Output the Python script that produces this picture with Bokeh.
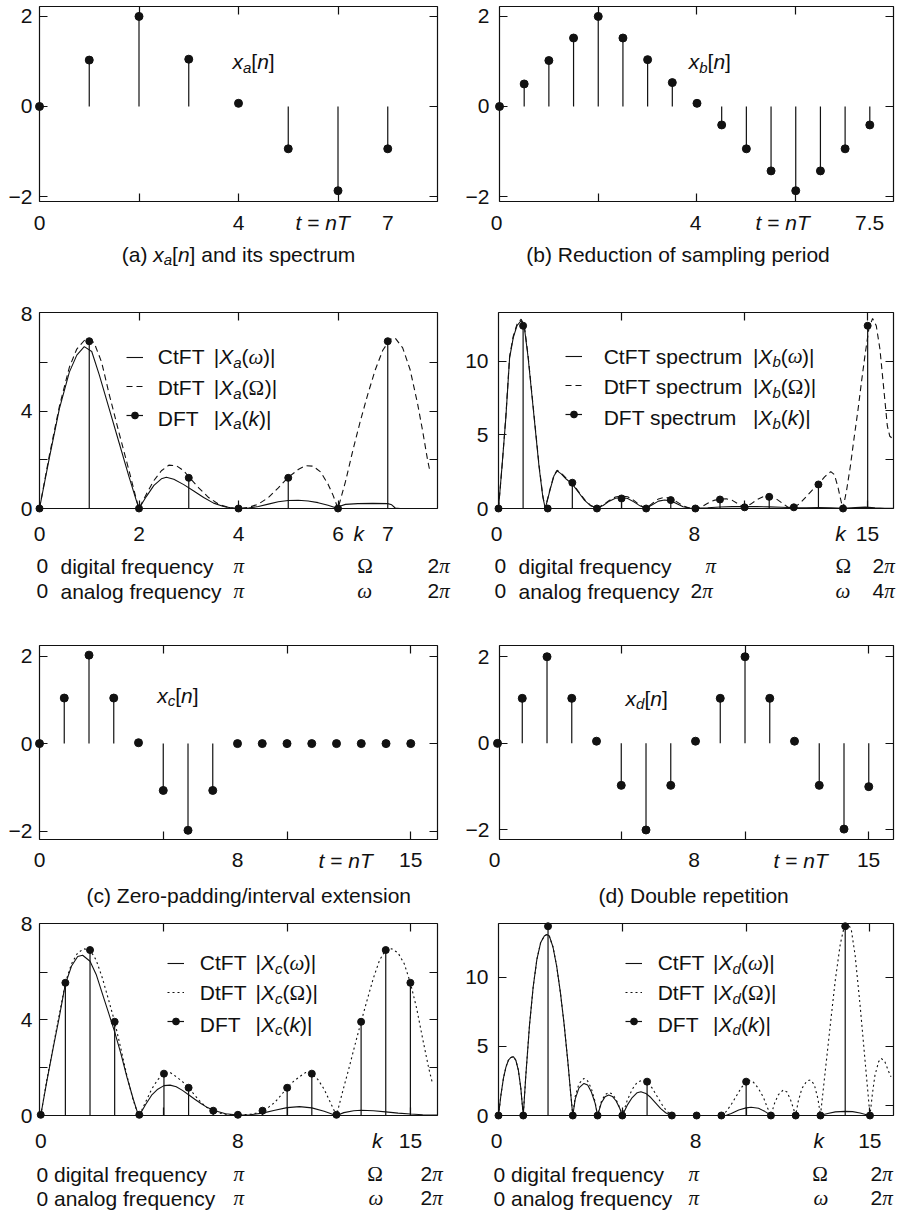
from bokeh.plotting import figure
from bokeh.models import (Range1d, FixedTicker, LinearAxis, Label, Legend,
                          LegendItem, ColumnDataSource)
from bokeh.layouts import column, row
from bokeh.embed import file_html
from bokeh.resources import INLINE

FONT = "Liberation Sans"
SERIF = "Liberation Serif"
FS = 21
INK = "#111111"
YFIX = 7.5   # empirical baseline correction for Label text

# ---------------------------------------------------------------- data
n_a = [0, 1, 2, 3, 4, 5, 6, 7]
x_a = [0, 1.03, 2.0, 1.05, 0.07, -0.94, -1.87, -0.94]

t_b = [0, 0.5, 1.0, 1.5, 2.0, 2.5, 3.0, 3.5, 4.0, 4.5, 5.0, 5.5, 6.0, 6.5, 7.0, 7.5]
x_b = [0, 0.5, 1.02, 1.52, 2.0, 1.52, 1.04, 0.53, 0.07, -0.41, -0.94, -1.43,
       -1.87, -1.43, -0.94, -0.41]

n16 = list(range(16))
x_c = [0, 1.04, 2.02, 1.04, 0.02, -1.07, -1.98, -1.07, 0, 0, 0, 0, 0, 0, 0, 0]
x_d = [0, 1.04, 2.0, 1.04, 0.05, -0.97, -2.0, -0.97, 0.05, 1.04, 2.0, 1.04,
       0.05, -0.97, -1.98, -1.0]

k8 = list(range(8))
dft_a = [0, 6.87, 0, 1.26, 0, 1.26, 0, 6.87]
dft_b = [0, 12.4, 0, 1.75, 0, 0.68, 0, 0.57, 0, 0.61, 0.08, 0.79, 0.08, 1.63, 0, 12.4]
dft_c = [0.03, 5.55, 6.92, 3.92, 0.03, 1.75, 1.16, 0.2, 0.03, 0.2, 1.16, 1.75,
         0.03, 3.92, 6.92, 5.55]
dft_d = [0, 0, 13.7, 0, 0, 0, 2.45, 0, 0, 0, 2.45, 0, 0, 0, 13.7, 0]

# (k, magnitude)
ctft_a = [(0, 0), (0.2, 2.1), (0.4, 4.1), (0.6, 5.6), (0.75, 6.3), (0.9, 6.65),
          (1.05, 6.45), (1.2, 5.5), (1.4, 4.1), (1.6, 2.7), (1.8, 1.3), (1.95, 0.3),
          (2.0, 0), (2.15, 0.5), (2.3, 0.95), (2.45, 1.22), (2.55, 1.28), (2.7, 1.2),
          (2.9, 0.98), (3.1, 0.72), (3.3, 0.45), (3.5, 0.22), (3.7, 0.08), (3.9, 0.01),
          (4.0, 0), (4.2, 0.02), (4.4, 0.08), (4.6, 0.18), (4.8, 0.28), (5.0, 0.33),
          (5.2, 0.34), (5.4, 0.31), (5.6, 0.24), (5.8, 0.13), (6.0, 0), (6.05, 0.1),
          (6.15, 0.17), (6.4, 0.2), (6.7, 0.21), (7.0, 0.2), (7.08, 0.15),
          (7.15, 0.02), (7.25, 0), (7.42, 0)]
dtft_a = [(0, 0), (0.2, 2.2), (0.4, 4.2), (0.6, 5.8), (0.75, 6.55), (0.9, 6.9),
          (1.0, 6.95), (1.1, 6.8), (1.25, 6.0), (1.4, 4.7), (1.6, 3.1), (1.8, 1.55),
          (1.95, 0.35), (2.0, 0), (2.15, 0.6), (2.3, 1.15), (2.45, 1.55), (2.6, 1.78),
          (2.75, 1.76), (2.9, 1.55), (3.0, 1.3), (3.2, 0.85), (3.4, 0.45), (3.6, 0.18),
          (3.8, 0.04), (4.0, 0), (4.2, 0.04), (4.4, 0.18), (4.6, 0.45), (4.8, 0.85),
          (5.0, 1.28), (5.2, 1.6), (5.35, 1.76), (5.5, 1.74), (5.65, 1.5), (5.8, 1.0),
          (5.9, 0.55), (6.0, 0), (6.15, 1.1), (6.3, 2.4), (6.45, 3.6), (6.6, 4.7),
          (6.75, 5.7), (6.9, 6.5), (7.05, 6.95), (7.15, 7.0), (7.3, 6.6), (7.45, 5.7),
          (7.6, 4.3), (7.7, 3.2), (7.8, 2.0), (7.85, 1.5)]

ctft_b = [(0, 0), (0.15, 3.0), (0.3, 6.2), (0.45, 10.2), (0.6, 11.6), (0.75, 12.4),
          (0.92, 12.75), (1.05, 12.3), (1.2, 10.3), (1.35, 7.8), (1.5, 5.3),
          (1.65, 2.8), (1.8, 0.8), (1.9, 0), (2.1, 1.3), (2.25, 2.2), (2.38, 2.55),
          (2.55, 2.35), (2.75, 2.0), (3.0, 1.65), (3.25, 1.1), (3.5, 0.55),
          (3.75, 0.18), (4.0, 0.03), (4.25, 0.2), (4.5, 0.5), (4.75, 0.7), (5.0, 0.75),
          (5.25, 0.68), (5.5, 0.45), (5.75, 0.18), (6.0, 0.02), (6.25, 0.25),
          (6.5, 0.5), (6.75, 0.58), (7.0, 0.52), (7.25, 0.32), (7.5, 0.12),
          (7.75, 0.03), (8.0, 0.02), (8.5, 0.05), (9.0, 0.1), (9.5, 0.13), (10.0, 0.14),
          (10.5, 0.13), (11.0, 0.11), (11.5, 0.08), (12.0, 0.05), (12.5, 0.05),
          (13.0, 0.06), (13.5, 0.05), (14.0, 0.02), (14.5, 0.07), (14.9, 0.09),
          (15.3, 0.05), (15.7, 0.02), (16.05, 0.01)]
dtft_b = [(0, 0), (0.15, 3.0), (0.3, 6.3), (0.45, 10.3), (0.6, 11.7), (0.75, 12.5),
          (0.92, 12.85), (1.05, 12.4), (1.2, 10.4), (1.35, 7.9), (1.5, 5.4),
          (1.65, 2.9), (1.8, 0.85), (1.9, 0), (2.1, 1.35), (2.25, 2.25), (2.38, 2.6),
          (2.55, 2.4), (2.75, 2.05), (3.0, 1.72), (3.25, 1.15), (3.5, 0.6), (3.75, 0.2),
          (4.0, 0), (4.25, 0.25), (4.5, 0.55), (4.75, 0.78), (5.0, 0.85), (5.25, 0.8),
          (5.5, 0.55), (5.75, 0.22), (6.0, 0), (6.25, 0.35), (6.5, 0.65), (6.75, 0.76),
          (7.0, 0.7), (7.25, 0.45), (7.5, 0.18), (7.75, 0.04), (8.0, 0), (8.25, 0.12),
          (8.5, 0.35), (8.75, 0.55), (9.0, 0.63), (9.25, 0.66), (9.5, 0.55),
          (9.75, 0.3), (10.0, 0.08), (10.25, 0.3), (10.5, 0.6), (10.75, 0.8),
          (11.0, 0.82), (11.25, 0.7), (11.5, 0.4), (11.75, 0.1), (12.0, 0.05),
          (12.25, 0.35), (12.5, 0.8), (12.75, 1.25), (13.0, 1.65), (13.25, 2.15),
          (13.5, 2.5), (13.65, 2.3), (13.8, 1.4), (13.92, 0.5), (14.0, 0),
          (14.15, 1.3), (14.3, 2.9), (14.45, 4.8), (14.6, 6.6), (14.75, 8.6),
          (14.9, 10.5), (15.05, 12.2), (15.2, 12.9), (15.35, 12.4), (15.5, 10.8),
          (15.65, 8.2), (15.8, 5.6), (15.9, 4.9), (16.05, 4.7)]

ctft_c = [(0, 0), (0.25, 1.45), (0.5, 2.8), (0.75, 4.1), (1.0, 5.5), (1.25, 6.25),
          (1.5, 6.65), (1.7, 6.7), (2.0, 6.45), (2.25, 5.9), (2.5, 5.1), (2.75, 4.3),
          (3.0, 3.5), (3.25, 2.6), (3.5, 1.6), (3.75, 0.7), (3.95, 0.05), (4.0, 0),
          (4.25, 0.45), (4.5, 0.85), (4.75, 1.1), (5.0, 1.25), (5.25, 1.27), (5.5, 1.2),
          (5.75, 1.05), (6.0, 0.87), (6.25, 0.68), (6.5, 0.5), (6.75, 0.34),
          (7.0, 0.22), (7.5, 0.07), (8.0, 0.02), (8.5, 0.03), (9.0, 0.1), (9.5, 0.22),
          (10.0, 0.33), (10.5, 0.37), (11.0, 0.32), (11.5, 0.18), (11.9, 0.03),
          (12.0, 0), (12.3, 0.12), (12.7, 0.2), (13.0, 0.22), (13.5, 0.2), (14.0, 0.15),
          (14.5, 0.1), (15.0, 0.06), (15.5, 0.03), (16.1, 0.02)]
dtft_c = [(0, 0), (0.25, 1.5), (0.5, 2.85), (0.75, 4.2), (1.0, 5.55), (1.25, 6.35),
          (1.5, 6.8), (1.75, 6.97), (2.0, 6.92), (2.25, 6.5), (2.5, 5.75), (2.75, 4.85),
          (3.0, 3.92), (3.25, 2.8), (3.5, 1.65), (3.75, 0.65), (3.95, 0.05), (4.0, 0),
          (4.25, 0.55), (4.5, 1.1), (4.75, 1.5), (5.0, 1.75), (5.25, 1.8), (5.5, 1.62),
          (5.75, 1.42), (6.0, 1.16), (6.25, 0.85), (6.5, 0.55), (6.75, 0.33),
          (7.0, 0.2), (7.25, 0.1), (7.5, 0.05), (8.0, 0.02), (8.5, 0.05), (8.75, 0.1),
          (9.0, 0.2), (9.25, 0.35), (9.5, 0.55), (9.75, 0.85), (10.0, 1.16),
          (10.25, 1.42), (10.5, 1.62), (10.75, 1.8), (11.0, 1.75), (11.25, 1.5),
          (11.5, 1.1), (11.75, 0.55), (12.0, 0), (12.25, 1.0), (12.5, 1.95),
          (12.75, 2.95), (13.0, 3.92), (13.25, 4.85), (13.5, 5.75), (13.75, 6.5),
          (14.0, 6.92), (14.25, 6.97), (14.5, 6.8), (14.75, 6.35), (15.0, 5.55),
          (15.25, 4.5), (15.5, 3.2), (15.75, 1.95), (15.9, 1.33)]

ctft_d = [(0, 0), (0.1, 1.5), (0.2, 2.7), (0.3, 3.5), (0.4, 4.0), (0.5, 4.2),
          (0.6, 4.26), (0.7, 4.0), (0.8, 3.3), (0.9, 2.0), (1.0, 0), (1.1, 2.8),
          (1.25, 6.5), (1.4, 9.3), (1.55, 11.3), (1.7, 12.5), (1.85, 13.0),
          (1.95, 13.1), (2.05, 13.0), (2.2, 12.2), (2.35, 10.8), (2.5, 8.9),
          (2.65, 6.6), (2.8, 3.9), (2.92, 1.5), (3.0, 0), (3.1, 1.2), (3.25, 2.0),
          (3.45, 2.32), (3.6, 2.2), (3.75, 1.7), (3.9, 0.9), (4.0, 0), (4.15, 0.9),
          (4.3, 1.35), (4.45, 1.48), (4.6, 1.38), (4.75, 1.05), (4.9, 0.5), (5.0, 0),
          (5.2, 0.75), (5.4, 1.3), (5.6, 1.65), (5.75, 1.72), (5.95, 1.6), (6.15, 1.3),
          (6.35, 0.9), (6.55, 0.5), (6.75, 0.2), (6.9, 0.05), (7.0, 0), (8.0, 0),
          (9.0, 0), (9.2, 0.02), (9.4, 0.15), (9.7, 0.4), (10.0, 0.55), (10.2, 0.6),
          (10.5, 0.52), (10.75, 0.3), (11.0, 0.02), (12.0, 0), (13.0, 0.02),
          (13.3, 0.15), (13.6, 0.26), (14.0, 0.3), (14.3, 0.28), (14.6, 0.18),
          (14.9, 0.04), (15.0, 0), (15.95, 0)]
dtft_d = [(0, 0), (0.1, 1.5), (0.2, 2.7), (0.3, 3.5), (0.4, 4.0), (0.5, 4.2),
          (0.6, 4.26), (0.7, 4.0), (0.8, 3.3), (0.9, 2.0), (1.0, 0), (1.1, 2.8),
          (1.25, 6.5), (1.4, 9.3), (1.55, 11.3), (1.7, 12.5), (1.85, 13.0),
          (1.95, 13.1), (2.05, 13.0), (2.2, 12.2), (2.35, 10.8), (2.5, 8.9),
          (2.65, 6.6), (2.8, 3.9), (2.92, 1.5), (3.0, 0), (3.1, 1.4), (3.25, 2.3),
          (3.45, 2.69), (3.6, 2.5), (3.75, 1.95), (3.9, 1.0), (4.0, 0), (4.15, 1.0),
          (4.3, 1.5), (4.45, 1.67), (4.6, 1.55), (4.75, 1.15), (4.9, 0.55), (5.0, 0),
          (5.2, 1.1), (5.4, 1.9), (5.6, 2.4), (5.8, 2.55), (6.0, 2.45), (6.2, 2.0),
          (6.4, 1.4), (6.6, 0.8), (6.8, 0.3), (7.0, 0), (8.0, 0), (9.0, 0), (9.2, 0.3),
          (9.4, 0.8), (9.6, 1.4), (9.8, 2.0), (10.0, 2.45), (10.1, 2.57), (10.3, 2.4),
          (10.5, 1.95), (10.7, 1.3), (10.85, 0.6), (11.0, 0), (11.15, 0.9), (11.3, 1.5),
          (11.5, 1.85), (11.65, 1.7), (11.8, 1.1), (11.92, 0.45), (12.0, 0),
          (12.1, 1.0), (12.25, 1.95), (12.45, 2.5), (12.6, 2.57), (12.75, 2.25),
          (12.9, 1.2), (13.0, 0), (13.2, 3.3), (13.4, 6.6), (13.6, 9.8), (13.8, 12.4),
          (13.95, 13.6), (14.1, 14.0), (14.25, 13.4), (14.4, 11.6), (14.6, 8.0),
          (14.8, 4.0), (14.95, 1.0), (15.0, 0), (15.1, 1.6), (15.2, 2.9), (15.35, 3.9),
          (15.45, 4.14), (15.6, 3.9), (15.75, 3.2), (15.85, 2.8)]

# tick labels
TL_time_y = {-2: "\u22122", 0: "0", 2: "2"}
TL_a_x = {0: "0", 4: "4", 7: "7"}
TL_b_x = {0: "0", 4: "4", 7.5: "7.5"}
TL_16_x = {0: "0", 8: "8", 15: "15"}
TL_a_spec_x = {0: "0", 2: "2", 4: "4", 6: "6", 7: "7"}
TL_spec8_y = {0: "0", 4: "4", 8: "8"}
TL_spec13_y = {0: "0", 5: "5", 10: "10"}

# ---------------------------------------------------------------- helpers
AW = {' ': 278, '(': 333, ')': 333, '[': 278, ']': 278, '|': 260, '/': 278, '-': 333,
      '=': 584, '.': 278, 'C': 722, 'D': 722, 'F': 611, 'T': 611, 'X': 667, 'Z': 611,
      'R': 722, 'a': 556, 'b': 556, 'c': 500, 'd': 556, 'e': 556, 'f': 278, 'g': 556,
      'h': 556, 'i': 222, 'k': 500, 'l': 222, 'm': 833, 'n': 556, 'o': 556, 'p': 556,
      'q': 556, 'r': 333, 's': 500, 't': 278, 'u': 556, 'v': 500, 'x': 500, 'y': 500}
for _c in "0123456789":
    AW[_c] = 556
GW = {'\u03c0': 549, '\u03a9': 768, '\u03c9': 686}


class Geo:
    def __init__(self, fx, fw, fb, fh, xr, yr):
        self.fx, self.fw, self.fb, self.fh, self.xr, self.yr = fx, fw, fb, fh, xr, yr

    def dx(self, X):
        return self.xr[0] + (X - self.fx) / self.fw * (self.xr[1] - self.xr[0])

    def dy(self, Y):
        return self.yr[0] + (self.fb - Y) / self.fh * (self.yr[1] - self.yr[0])


def seg_w(t, kind, size):
    tbl = GW if kind in ("g", "gi") else AW
    return sum(tbl.get(ch, 556) for ch in t) / 1000.0 * size


def rich(p, g, X, Y, segs, size=FS, align="left"):
    sub = round(size * 0.72)
    ws = [seg_w(t, k, sub if k == "s" else size) for t, k in segs]
    off = 0 if align == "left" else -sum(ws) / 2.0
    x, y = g.dx(X), g.dy(Y - YFIX)
    for (t, k), w in zip(segs, ws):
        if k != "sp":
            p.add_layout(Label(
                x=x, y=y, x_offset=off, y_offset=(-0.27 * size if k == "s" else 0),
                text=t, text_font=(SERIF if k in ("g", "gi") else FONT),
                text_font_style=("italic" if k in ("i", "s", "gi") else "normal"),
                text_font_size=f"{sub if k == 's' else size}px",
                text_baseline="alphabetic", text_align="left", text_color=INK))
        off += w


def ticklabels(p, g, labels, Y):
    for k, t in labels.items():
        p.add_layout(Label(x=k, y=g.dy(Y - YFIX), text=t, text_align="center",
                           text_baseline="alphabetic", text_font=FONT,
                           text_font_size=f"{FS}px", text_color=INK))


def XN(s):
    return [("x", "i"), (s, "s"), ("[", "n"), ("n", "i"), ("]", "n")]


def XF(s, arg):
    return [("|", "n"), ("X", "i"), (s, "s"), ("(", "n")] + arg + [(")", "n"), ("|", "n")]


TNT = [("t", "i"), (" ", "sp"), ("=", "n"), (" ", "sp"), ("nT", "i")]
PI = ("\u03c0", "gi")


def base_fig(w, h, bl, br, bt, bb, xr, yr):
    p = figure(width=w, height=h, x_range=Range1d(*xr), y_range=Range1d(*yr),
               x_axis_type=None, y_axis_type=None, output_backend="svg",
               toolbar_location=None, min_border_left=bl, min_border_right=br,
               min_border_top=bt, min_border_bottom=bb)
    p.background_fill_color = "white"
    p.border_fill_color = "white"
    return p


def axis(p, side, labels=None, marks=(), standoff=0):
    labels = labels or {}
    ax = LinearAxis(ticker=FixedTicker(ticks=list(labels.keys()), minor_ticks=list(marks)))
    ax.major_label_overrides = dict(labels)
    ax.axis_line_color = None
    ax.major_tick_in = 0
    ax.major_tick_out = 0
    ax.minor_tick_in = 8
    ax.minor_tick_out = 0
    ax.minor_tick_line_color = INK
    ax.minor_tick_line_width = 1.2
    ax.major_label_text_font = FONT
    ax.major_label_text_font_size = f"{FS}px"
    ax.major_label_text_color = INK
    ax.major_label_standoff = standoff
    p.add_layout(ax, side)


def stems(p, xs, ys, size):
    src = ColumnDataSource(dict(x=list(xs), y=list(ys), z=[0] * len(xs)))
    r1 = p.segment(x0="x", y0="z", x1="x", y1="y", source=src, line_color=INK,
                   line_width=1.2)
    r2 = p.scatter("x", "y", source=src, size=size, color=INK, level="overlay")
    return r1, r2


def curve(p, pairs, dash):
    k = [a for a, b in pairs]
    m = [b for a, b in pairs]
    return p.line(k, m, line_color=INK, line_width=1.1, line_dash=dash)


def legend(p, rs, vx, vy):
    items = [LegendItem(label=" ", renderers=[rs[0]]),
             LegendItem(label=" ", renderers=[rs[1]]),
             LegendItem(label=" ", renderers=list(rs[2]))]
    lg = Legend(items=items, location=(vx, vy), padding=0, margin=0, spacing=3,
                glyph_height=26, glyph_width=17, label_height=26, label_width=1,
                label_standoff=0, border_line_color=None, background_fill_alpha=0,
                label_text_font_size="1px")
    p.add_layout(lg)


# ---------------------------------------------------------------- geometry
LW, RW = 462, 437
LBL, LBR, RBL, RBR = 39, 25, 34, 6
PANELS = [(209, 6, 8), (236, 27, 13), (225, 23, 8), (217, 12, 13)]
STRIPS = [76, 101, 64, 83]
TOPS = []
_y = 0
for (ph, _, _), sh in zip(PANELS, STRIPS):
    TOPS.append((_y, _y + ph))
    _y += ph + sh


def mk(col, r, xr, yr):
    h, bt, bb = PANELS[r]
    if col == 0:
        p = base_fig(LW, h, LBL, LBR, bt, bb, xr, yr)
        fx, fw = LBL, LW - LBL - LBR
    else:
        p = base_fig(RW, h, RBL, RBR, bt, bb, xr, yr)
        fx, fw = LW + RBL, RW - RBL - RBR
    p.outline_line_color = INK
    p.outline_line_width = 1.2
    top = TOPS[r][0] + bt
    fh = h - bt - bb
    return p, Geo(fx, fw, top + fh, fh, xr, yr)


def strip(col, r, xr):
    H = STRIPS[r]
    top = TOPS[r][1]
    if col == 0:
        W, bl, br, x0 = LW, LBL, LBR, 0
    else:
        W, bl, br, x0 = RW, RBL, RBR, LW
    upp = (xr[1] - xr[0]) / (W - bl - br)
    sxr = (xr[0] - bl * upp, xr[1] + br * upp)
    p = figure(width=W, height=H, x_range=Range1d(*sxr), y_range=Range1d(H, 0),
               x_axis_type=None, y_axis_type=None, output_backend="svg",
               toolbar_location=None, min_border=0, min_border_left=0,
               min_border_right=0, min_border_top=0, min_border_bottom=0)
    p.outline_line_color = None
    p.background_fill_color = "white"
    p.border_fill_color = "white"
    return p, Geo(x0, W, top + H, H, sxr, (H, 0))


LSO, RSO = 7, 10

# ---- (a) time
XR = (0, 8)
pA1, gA1 = mk(0, 0, XR, (-2.11, 2.22))
axis(pA1, "left", TL_time_y, [-2, 0, 2], LSO)
axis(pA1, "right", None, [-2, 0, 2])
axis(pA1, "below", None, [2, 4, 6])
axis(pA1, "above", None, [2, 4, 6])
stems(pA1, n_a, x_a, 8)
rich(pA1, gA1, 232, 68.5, XN("a"))
sA1, hA1 = strip(0, 0, XR)
ticklabels(sA1, hA1, TL_a_x, 229.5)
rich(sA1, hA1, 295, 229.5, TNT)
rich(sA1, hA1, 238, 261, [("(a)", "n"), (" ", "sp")] + XN("a") +
     [(" ", "sp"), ("and its spectrum", "n")], align="center")

# ---- (b) time
XR = (0, 7.98)
pB1, gB1 = mk(1, 0, XR, (-2.11, 2.22))
axis(pB1, "left", TL_time_y, [-2, 0, 2], RSO)
axis(pB1, "right", None, [-2, 0, 2])
axis(pB1, "below", None, [2, 4, 6])
axis(pB1, "above", None, [2, 4, 6])
stems(pB1, t_b, x_b, 8)
rich(pB1, gB1, 686.7, 68.5, XN("b"))
sB1, hB1 = strip(1, 0, XR)
ticklabels(sB1, hB1, TL_b_x, 229.5)
rich(sB1, hB1, 755, 229.5, TNT)
rich(sB1, hB1, 677.5, 261, [("(b) Reduction of sampling period", "n")], align="center")

# ---- (a) spectrum
XR = (0, 8)
pA2, gA2 = mk(0, 1, XR, (0, 8.05))
axis(pA2, "left", TL_spec8_y, [2, 4, 6], LSO)
axis(pA2, "right", None, [2, 4, 6])
axis(pA2, "below", None, [2, 4, 6])
axis(pA2, "above", None, [2, 4, 6])
c1 = curve(pA2, ctft_a, "solid")
c2 = curve(pA2, dtft_a, "6 4")
s = stems(pA2, k8, dft_a, 7)
legend(pA2, [c1, c2, s], 87, 80.4)
for name, arg, by in [("CtFT", [("\u03c9", "gi")], 363.5),
                      ("DtFT", [("\u03a9", "g")], 394.5),
                      ("DFT", [("k", "i")], 425.3)]:
    rich(pA2, gA2, 157.3, by, [(name, "n")])
    rich(pA2, gA2, 213.3, by, XF("a", arg))
sA2, hA2 = strip(0, 1, XR)
ticklabels(sA2, hA2, TL_a_spec_x, 540.5)
rich(sA2, hA2, 358.3, 540.5, [("k", "i")], align="center")
for X, segs in [(36, [("0", "n")]), (60, [("digital frequency", "n")]), (233, [PI]),
                (356.7, [("\u03a9", "g")]), (427, [("2", "n"), PI])]:
    rich(sA2, hA2, X, 573.3, segs)
for X, segs in [(36, [("0", "n")]), (60, [("analog frequency", "n")]), (233, [PI]),
                (356.7, [("\u03c9", "gi")]), (427, [("2", "n"), PI])]:
    rich(sA2, hA2, X, 598.3, segs)

# ---- (b) spectrum
XR = (0, 16.05)
pB2, gB2 = mk(1, 1, XR, (0, 13.3))
axis(pB2, "left", TL_spec13_y, [5, 10], RSO)
axis(pB2, "right", None, [3.32, 6.64, 9.96])
axis(pB2, "below", None, [5, 10, 15])
axis(pB2, "above", None, [5, 10, 15])
c1 = curve(pB2, ctft_b, "solid")
c2 = curve(pB2, dtft_b, "6 4")
s = stems(pB2, n16, dft_b, 7)
legend(pB2, [c1, c2, s], 67.3, 81.0)
for name, arg, by in [("CtFT spectrum", [("\u03c9", "gi")], 363),
                      ("DtFT spectrum", [("\u03a9", "g")], 393.5),
                      ("DFT spectrum", [("k", "i")], 424.5)]:
    rich(pB2, gB2, 601.7, by, [(name, "n")])
    rich(pB2, gB2, 751.7, by, XF("b", arg))
sB2, hB2 = strip(1, 1, XR)
ticklabels(sB2, hB2, TL_16_x, 540.5)
rich(sB2, hB2, 840, 540.5, [("k", "i")], align="center")
for X, segs in [(494, [("0", "n")]), (518, [("digital frequency", "n")]), (705, [PI]),
                (835, [("\u03a9", "g")]), (872, [("2", "n"), PI])]:
    rich(sB2, hB2, X, 573.3, segs)
for X, segs in [(494, [("0", "n")]), (518, [("analog frequency", "n")]),
                (690, [("2", "n"), PI]), (835, [("\u03c9", "gi")]), (872, [("4", "n"), PI])]:
    rich(sB2, hB2, X, 598.3, segs)

# ---- (c) time
XR = (0, 16.08)
pA3, gA3 = mk(0, 2, XR, (-2.19, 2.24))
axis(pA3, "left", TL_time_y, [-2, 0, 2], LSO)
axis(pA3, "right", None, [-2, 0, 2])
axis(pA3, "below", None, [5, 10, 15])
axis(pA3, "above", None, [5, 10, 15])
stems(pA3, n16, x_c, 8)
rich(pA3, gA3, 156.7, 702, XN("c"))
sA3, hA3 = strip(0, 2, XR)
ticklabels(sA3, hA3, TL_16_x, 867)
rich(sA3, hA3, 318, 867, TNT)
rich(sA3, hA3, 86, 902, [("(c) Zero-padding/interval extension", "n")])

# ---- (d) time
XR = (0.08, 16.0)
pB3, gB3 = mk(1, 2, XR, (-2.22, 2.26))
axis(pB3, "left", TL_time_y, [-2, 0, 2], RSO)
axis(pB3, "right", None, [-2, 0, 2])
axis(pB3, "below", None, [5, 10, 15])
axis(pB3, "above", None, [5, 10, 15])
stems(pB3, n16, x_d, 8)
rich(pB3, gB3, 623, 705, XN("d"))
sB3, hB3 = strip(1, 2, XR)
ticklabels(sB3, hB3, TL_16_x, 867)
rich(sB3, hB3, 773, 867, TNT)
rich(sB3, hB3, 598, 902.5, [("(d) Double repetition", "n")])

# ---- (c) spectrum
XR = (-0.05, 16.1)
pA4, gA4 = mk(0, 3, XR, (0, 8.03))
axis(pA4, "left", TL_spec8_y, [2, 4, 6], LSO)
axis(pA4, "right", None, [2, 4, 6])
axis(pA4, "below", None, [5, 10, 15])
axis(pA4, "above", None, [5, 10, 15])
c1 = curve(pA4, ctft_c, "solid")
c2 = curve(pA4, dtft_c, "2 3")
s = stems(pA4, n16, dft_c, 7)
legend(pA4, [c1, c2, s], 127.7, 81.4)
for name, arg, by in [("CtFT", [("\u03c9", "gi")], 969.5),
                      ("DtFT", [("\u03a9", "g")], 999.5),
                      ("DFT", [("k", "i")], 1031)]:
    rich(pA4, gA4, 199.3, by, [(name, "n")])
    rich(pA4, gA4, 255, by, XF("c", arg))
sA4, hA4 = strip(0, 3, XR)
ticklabels(sA4, hA4, TL_16_x, 1147.5)
rich(sA4, hA4, 376.7, 1147.5, [("k", "i")], align="center")
for X, segs in [(36, [("0 digital frequency", "n")]), (233, [PI]),
                (366.7, [("\u03a9", "g")]), (420, [("2", "n"), PI])]:
    rich(sA4, hA4, X, 1181, segs)
for X, segs in [(36, [("0 analog frequency", "n")]), (233, [PI]),
                (368, [("\u03c9", "gi")]), (420, [("2", "n"), PI])]:
    rich(sA4, hA4, X, 1205, segs)

# ---- (d) spectrum
XR = (0, 15.95)
pB4, gB4 = mk(1, 3, XR, (0, 13.9))
axis(pB4, "left", TL_spec13_y, [5, 10], RSO)
axis(pB4, "right", None, [0.7, 5, 10])
axis(pB4, "below", None, [5, 10, 15])
axis(pB4, "above", None, [5, 10, 15])
c1 = curve(pB4, ctft_d, "solid")
c2 = curve(pB4, dtft_d, "2 3")
s = stems(pB4, n16, dft_d, 7)
legend(pB4, [c1, c2, s], 127.3, 81.4)
for name, arg, by in [("CtFT", [("\u03c9", "gi")], 969.5),
                      ("DtFT", [("\u03a9", "g")], 999.5),
                      ("DFT", [("k", "i")], 1031)]:
    rich(pB4, gB4, 656, by, [(name, "n")])
    rich(pB4, gB4, 711.7, by, XF("d", arg))
sB4, hB4 = strip(1, 3, XR)
ticklabels(sB4, hB4, TL_16_x, 1147.5)
rich(sB4, hB4, 818.3, 1147.5, [("k", "i")], align="center")
for X, segs in [(493, [("0 digital frequency", "n")]), (688, [PI]),
                (811.7, [("\u03a9", "g")]), (870, [("2", "n"), PI])]:
    rich(sB4, hB4, X, 1181, segs)
for X, segs in [(493, [("0 analog frequency", "n")]), (688, [PI]),
                (813, [("\u03c9", "gi")]), (870, [("2", "n"), PI])]:
    rich(sB4, hB4, X, 1205, segs)

layout = column(row(pA1, pB1), row(sA1, sB1), row(pA2, pB2), row(sA2, sB2),
                row(pA3, pB3), row(sA3, sB3), row(pA4, pB4), row(sA4, sB4))
open("out.html", "w").write(file_html(layout, INLINE))
